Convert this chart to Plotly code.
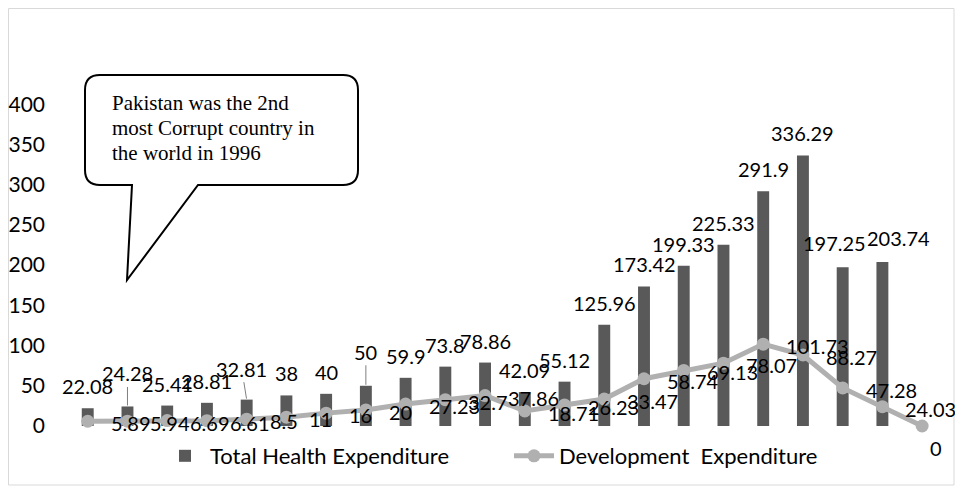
import plotly.graph_objects as go

# ---------------- data ----------------
total_health = [22.08, 24.28, 25.41, 28.81, 32.81, 38, 40, 50, 59.9, 73.8, 78.86,
                42.09, 55.12, 125.96, 173.42, 199.33, 225.33, 291.9, 336.29, 197.25, 203.74]
development = [5.89, 5.94, 6.69, 6.61, 8.5, 11, 16, 20, 27.23, 32.7, 37.86,
               18.71, 26.23, 33.47, 58.74, 69.13, 78.07, 101.73, 88.27, 47.28, 24.03, 0]
y_ticks = [0, 50, 100, 150, 200, 250, 300, 350, 400]
series_names = ["Total Health Expenditure", "Development  Expenditure"]
callout_lines = ["Pakistan was the 2nd", "most Corrupt country in", "the world in 1996"]

x_bar = list(range(len(total_health)))
x_line = list(range(len(development)))

# ---------------- layout geometry ----------------
# the page body has an 8px margin, so the figure is 16px smaller than the window
OFF = 8
W, H = 963 - 2 * OFF, 494 - 2 * OFF
ML, MR, MT, MB = 40, 13, 56, 60
PW, PH = W - ML - MR, H - MT - MB
FONT = "Lato, Calibri, Carlito, sans-serif"
BAR_COLOR = "#595959"
LINE_COLOR = "#b0b0b0"


def px(x):
    """page pixel x -> paper"""
    return (x - OFF - ML) / PW


def py(y):
    """page pixel y -> paper"""
    return (H - MB - (y - OFF)) / PH


fig = go.Figure()
fig.add_trace(go.Bar(x=x_bar, y=total_health, name=series_names[0],
                     marker=dict(color=BAR_COLOR, line=dict(width=0)), width=0.3))
fig.add_trace(go.Scatter(x=x_line, y=development, name=series_names[1], mode="lines+markers",
                         line=dict(color=LINE_COLOR, width=5),
                         marker=dict(color=LINE_COLOR, size=13), cliponaxis=False))

LABEL_SIZE = 20
annotations = []
# bar data labels (a few were moved up with leader lines in the original)
bar_label_adjust = {1: (0, 33, True), 4: (-5, 31, True), 7: (0, 34, True),
                    19: (-8, 24, False), 20: (16, 24, False)}
for i, v in enumerate(total_health):
    dx, dy, leader = bar_label_adjust.get(i, (0, 22, False))
    if leader:
        annotations.append(dict(x=x_bar[i], y=v, xref="x", yref="y", text=str(v),
                                showarrow=True, arrowhead=0, arrowwidth=1, arrowcolor="#7f7f7f",
                                ax=dx, ay=-dy, standoff=1,
                                font=dict(family=FONT, size=LABEL_SIZE, color="#000000")))
    else:
        annotations.append(dict(x=x_bar[i], y=v, xref="x", yref="y", text=str(v),
                                showarrow=False, xanchor="center", yanchor="middle",
                                xshift=dx, yshift=dy,
                                font=dict(family=FONT, size=LABEL_SIZE, color="#000000")))
# line data labels (to the right of each point)
for i, v in enumerate(development):
    last = i == len(development) - 1
    annotations.append(dict(x=x_line[i], y=v, xref="x", yref="y", text=str(v),
                            showarrow=False, xanchor="left", yanchor="middle",
                            xshift=6 if last else 21, yshift=-22 if last else -2,
                            font=dict(family=FONT, size=LABEL_SIZE, color="#000000")))
# callout text
for k, t in enumerate(callout_lines):
    annotations.append(dict(x=px(110), y=py(103 + 25 * k), xref="paper", yref="paper",
                            text=t, showarrow=False, xanchor="left", yanchor="middle",
                            font=dict(family="Liberation Serif, Times New Roman, serif",
                                      size=21, color="#000000")))

# callout bubble path (rounded box with a tail), in page pixels
L, R, T, B, r = 85, 358, 75, 185, 15
tl, tr, tip = (132, 185), (198, 185), (127, 280)
pts = [
    ("M", tl), ("L", (L + r, B)), ("Q", (L, B), (L, B - r)), ("L", (L, T + r)),
    ("Q", (L, T), (L + r, T)), ("L", (R - r, T)), ("Q", (R, T), (R, T + r)),
    ("L", (R, B - r)), ("Q", (R, B), (R - r, B)), ("L", tr), ("L", tip), ("L", tl),
]
path = ""
for item in pts:
    cmd = item[0]
    coords = " ".join(f"{px(p[0]):.5f},{py(p[1]):.5f}" for p in item[1:])
    path += f"{cmd}{coords} "
path += "Z"

shapes = [
    dict(type="rect", xref="paper", yref="paper", x0=px(8.5), x1=px(954), y0=py(8.5), y1=py(485),
         line=dict(color="#d9d9d9", width=1), fillcolor="rgba(0,0,0,0)", layer="below"),
    dict(type="path", xref="paper", yref="paper", path=path,
         line=dict(color="#000000", width=2), fillcolor="#ffffff", layer="above"),
]

fig.update_layout(
    width=W, height=H,
    margin=dict(l=ML, r=MR, t=MT, b=MB, autoexpand=False),
    paper_bgcolor="#ffffff", plot_bgcolor="#ffffff",
    font=dict(family=FONT, size=21, color="#000000"),
    showlegend=True,
    legend=dict(orientation="h", x=px(160), xanchor="left", y=py(456), yanchor="middle",
                font=dict(family=FONT, size=22, color="#000000"),
                bgcolor="rgba(0,0,0,0)", traceorder="normal", itemwidth=40,
                entrywidth=294, entrywidthmode="pixels"),
    xaxis=dict(range=[-1, 21.5], showticklabels=False, showgrid=False, zeroline=False,
               showline=False, ticks=""),
    yaxis=dict(range=[0, 450], tickvals=y_ticks, showgrid=False, zeroline=False,
               showline=False, ticks="", ticklabelstandoff=2, automargin=False,
               tickfont=dict(family=FONT, size=21, color="#000000")),
    annotations=annotations,
    shapes=shapes,
    bargap=0.7,
)

fig.write_html("out.html")
